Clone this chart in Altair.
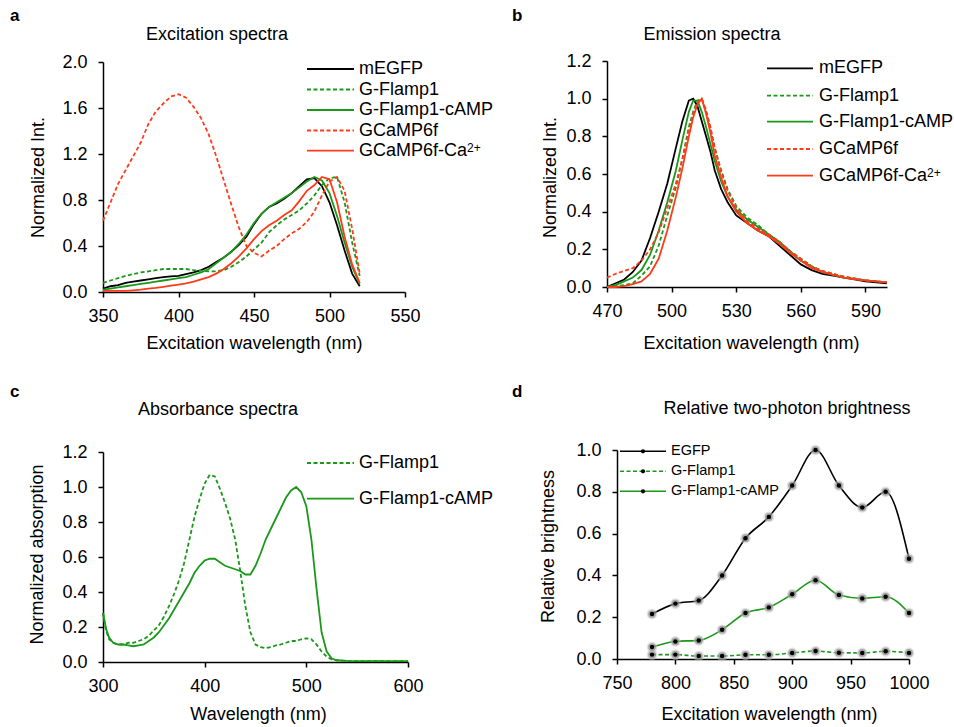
import altair as alt
import pandas as pd

FONT = "Liberation Sans"
W, H = 954, 727
BLACK, GREEN, RED = "#000000", "#1a981a", "#ff3b1a"
DASH = [4, 2.5]

# ---------------- a: excitation spectra ----------------
exc_wl = [350, 355, 360, 365, 370, 375, 380, 385, 390, 395, 400, 405, 410, 415, 420,
          425, 430, 435, 440, 445, 450, 455, 460, 465, 470, 475, 480, 485, 490, 495,
          500, 505, 510, 515, 520]
exc_megfp = [0.03, 0.05, 0.06, 0.08, 0.09, 0.10, 0.11, 0.12, 0.13, 0.135, 0.14, 0.155, 0.17, 0.19, 0.22,
             0.26, 0.30, 0.35, 0.41, 0.48, 0.59, 0.68, 0.74, 0.77, 0.81, 0.86, 0.92, 0.98, 0.99, 0.92,
             0.78, 0.58, 0.36, 0.16, 0.05]
exc_flamp = [0.08, 0.10, 0.12, 0.14, 0.155, 0.17, 0.18, 0.19, 0.20, 0.20, 0.20, 0.20, 0.19, 0.185, 0.18,
             0.18, 0.19, 0.22, 0.26, 0.31, 0.37, 0.43, 0.52, 0.58, 0.63, 0.67, 0.71, 0.77, 0.84, 0.93,
             0.99, 1.00, 0.78, 0.43, 0.14]
exc_flamp_camp = [0.02, 0.03, 0.04, 0.05, 0.06, 0.07, 0.08, 0.09, 0.10, 0.11, 0.12, 0.13, 0.15, 0.17, 0.20,
                  0.25, 0.30, 0.35, 0.42, 0.50, 0.60, 0.68, 0.74, 0.78, 0.82, 0.86, 0.91, 0.96, 1.00, 0.97,
                  0.86, 0.66, 0.43, 0.22, 0.07]
exc_gcamp = [0.62, 0.78, 0.94, 1.06, 1.18, 1.30, 1.46, 1.57, 1.64, 1.70, 1.72, 1.69, 1.61, 1.51, 1.37,
             1.18, 0.97, 0.76, 0.56, 0.40, 0.34, 0.31, 0.36, 0.40, 0.46, 0.51, 0.55, 0.61, 0.70, 0.84,
             0.96, 1.00, 0.88, 0.55, 0.16]
exc_gcamp_ca = [0.01, 0.01, 0.01, 0.01, 0.015, 0.02, 0.03, 0.035, 0.045, 0.055, 0.065, 0.075, 0.09, 0.11, 0.13,
                0.16, 0.20, 0.25, 0.31, 0.38, 0.46, 0.53, 0.58, 0.62, 0.67, 0.71, 0.79, 0.88, 0.93, 1.00,
                0.98, 0.78, 0.48, 0.24, 0.08]

# ---------------- b: emission spectra ----------------
em_wl = [470, 474, 478, 482, 486, 490, 494, 498, 502, 505, 508, 510, 512, 514, 516, 518, 520,
         523, 526, 530, 535, 540, 545, 550, 555, 560, 565, 570, 575, 580, 585, 590, 595, 600]
em_megfp = [0.0, 0.02, 0.04, 0.08, 0.14, 0.26, 0.40, 0.55, 0.74, 0.88, 0.99, 1.00, 0.96, 0.88, 0.80, 0.72, 0.62,
            0.52, 0.45, 0.38, 0.34, 0.30, 0.27, 0.22, 0.17, 0.12, 0.09, 0.07, 0.06, 0.05, 0.04, 0.03, 0.025, 0.02]
em_flamp = [0.0, 0.005, 0.01, 0.02, 0.06, 0.11, 0.22, 0.38, 0.53, 0.68, 0.85, 0.93, 0.99, 1.00, 0.93, 0.84, 0.74,
            0.62, 0.52, 0.43, 0.37, 0.33, 0.28, 0.24, 0.19, 0.15, 0.11, 0.085, 0.07, 0.055, 0.045, 0.035, 0.03, 0.025]
em_flamp_camp = [0.0, 0.01, 0.03, 0.05, 0.09, 0.17, 0.30, 0.45, 0.62, 0.78, 0.93, 0.99, 0.99, 0.93, 0.85, 0.76, 0.67,
                 0.56, 0.48, 0.41, 0.36, 0.32, 0.28, 0.24, 0.19, 0.14, 0.11, 0.08, 0.065, 0.05, 0.045, 0.035, 0.03, 0.025]
em_gcamp = [0.05, 0.07, 0.085, 0.10, 0.14, 0.20, 0.29, 0.42, 0.55, 0.68, 0.83, 0.92, 0.98, 1.00, 0.94, 0.85, 0.74,
            0.61, 0.51, 0.42, 0.35, 0.31, 0.28, 0.24, 0.19, 0.15, 0.11, 0.085, 0.07, 0.055, 0.045, 0.035, 0.03, 0.025]
em_gcamp_ca = [0.0, 0.0, 0.005, 0.015, 0.03, 0.07, 0.15, 0.30, 0.48, 0.63, 0.80, 0.90, 0.97, 1.00, 0.92, 0.82, 0.70,
               0.58, 0.48, 0.40, 0.34, 0.30, 0.27, 0.23, 0.18, 0.14, 0.10, 0.08, 0.065, 0.05, 0.04, 0.035, 0.03, 0.025]

# ---------------- c: absorbance spectra ----------------
abs_wl = [300, 303, 306, 310, 315, 320, 325, 330, 335, 340, 345, 350, 355, 360, 365, 370, 375, 380,
          385, 390, 395, 400, 405, 410, 415, 420, 425, 430, 435, 440, 445, 450, 455, 460, 465, 470,
          475, 480, 485, 490, 495, 500, 505, 510, 515, 520, 525, 530, 540, 550, 560, 570, 580, 590, 600]
abs_flamp = [0.28, 0.18, 0.13, 0.11, 0.10, 0.10, 0.11, 0.11, 0.12, 0.13, 0.15, 0.18, 0.21, 0.26, 0.32, 0.39, 0.47, 0.57,
             0.70, 0.83, 0.93, 1.02, 1.07, 1.06, 0.99, 0.91, 0.82, 0.70, 0.52, 0.32, 0.17, 0.10, 0.085, 0.08, 0.085, 0.095,
             0.10, 0.11, 0.12, 0.12, 0.13, 0.135, 0.13, 0.10, 0.06, 0.03, 0.015, 0.01, 0.005, 0.005, 0.005, 0.005, 0.005, 0.005, 0.005]
abs_flamp_camp = [0.28, 0.19, 0.14, 0.11, 0.10, 0.10, 0.095, 0.09, 0.095, 0.10, 0.12, 0.14, 0.17, 0.21, 0.25, 0.30, 0.35, 0.40,
                  0.45, 0.51, 0.55, 0.58, 0.59, 0.59, 0.57, 0.55, 0.54, 0.53, 0.52, 0.50, 0.50, 0.55, 0.62, 0.70, 0.76, 0.82,
                  0.88, 0.94, 0.98, 1.00, 0.97, 0.89, 0.70, 0.42, 0.17, 0.06, 0.02, 0.01, 0.006, 0.005, 0.005, 0.005, 0.005, 0.005, 0.005]

# ---------------- d: relative two-photon brightness ----------------
tp_wl = [780, 800, 820, 840, 860, 880, 900, 920, 940, 960, 980, 1000]
tp_egfp = [0.215, 0.265, 0.28, 0.40, 0.578, 0.68, 0.83, 1.00, 0.83, 0.725, 0.80, 0.48]
tp_flamp = [0.021, 0.021, 0.014, 0.014, 0.02, 0.02, 0.029, 0.038, 0.03, 0.029, 0.037, 0.029]
tp_flamp_camp = [0.057, 0.084, 0.089, 0.14, 0.22, 0.247, 0.31, 0.377, 0.306, 0.29, 0.298, 0.22]


def x_enc(dom, px, axis_y, vals, title, title_x, title_y):
    return alt.X("wl:Q",
                 scale=alt.Scale(domain=dom, range=px, nice=False, zero=False),
                 axis=alt.Axis(orient="bottom", offset=axis_y - H, values=vals, format="d",
                               title=title, titleX=title_x, titleY=title_y - axis_y,
                               titleBaseline="alphabetic", labelBaseline="alphabetic",
                               labelPadding=24.5))


def y_enc(dom, px, axis_x, vals, title, title_x, title_y):
    return alt.Y("val:Q",
                 scale=alt.Scale(domain=dom, range=px, nice=False, zero=False),
                 axis=alt.Axis(orient="left", offset=-axis_x, values=vals, format=".1f",
                               title=title, titleX=title_x - axis_x, titleY=title_y,
                               titleAngle=270, titleBaseline="alphabetic", labelPadding=11))


def curve(xs, ys, color, xe, ye, dashed=False, width=1.8, interp="linear"):
    kw = dict(color=color, strokeWidth=width, interpolate=interp)
    if dashed:
        kw["strokeDash"] = DASH
    df = pd.DataFrame({"wl": xs, "val": ys})
    return alt.Chart(df).mark_line(**kw).encode(x=xe, y=ye)


def text(t, x, y, size=18, weight="normal", align="left", baseline="alphabetic"):
    return alt.Chart(pd.DataFrame({"t": [t]})).mark_text(
        font=FONT, fontSize=size, fontWeight=weight, align=align, baseline=baseline, color="black"
    ).encode(x=alt.value(x), y=alt.value(y), text="t:N")


def key_line(x1, x2, y, color, dashed=False, width=1.8):
    kw = dict(color=color, strokeWidth=width)
    if dashed:
        kw["strokeDash"] = DASH
    return alt.Chart(pd.DataFrame({"k": [0]})).mark_rule(**kw).encode(
        x=alt.value(x1), x2=alt.value(x2), y=alt.value(y))


def dot(x, y, size=20):
    return alt.Chart(pd.DataFrame({"k": [0]})).mark_circle(size=size, color=BLACK, opacity=1).encode(
        x=alt.value(x), y=alt.value(y))


# panel a
xa = x_enc([350, 550], [103, 405], 292, [350, 400, 450, 500, 550],
           "Excitation wavelength (nm)", 254, 348.3)
ya = y_enc([0, 2.0], [292, 62], 103, [0, 0.4, 0.8, 1.2, 1.6, 2.0], "Normalized Int.", 43.3, 177)
panel_a = alt.layer(
    curve(exc_wl, exc_megfp, BLACK, xa, ya),
    curve(exc_wl, exc_flamp, GREEN, xa, ya, dashed=True),
    curve(exc_wl, exc_flamp_camp, GREEN, xa, ya),
    curve(exc_wl, exc_gcamp, RED, xa, ya, dashed=True),
    curve(exc_wl, exc_gcamp_ca, RED, xa, ya),
)

# panel b
xb = x_enc([470, 600], [607, 887], 287, [470, 500, 530, 560, 590],
           "Excitation wavelength (nm)", 751, 348.3)
yb = y_enc([0, 1.2], [287, 61], 607, [0, 0.2, 0.4, 0.6, 0.8, 1.0, 1.2], "Normalized Int.", 555.3, 177)
panel_b = alt.layer(
    curve(em_wl, em_megfp, BLACK, xb, yb),
    curve(em_wl, em_flamp, GREEN, xb, yb, dashed=True),
    curve(em_wl, em_flamp_camp, GREEN, xb, yb),
    curve(em_wl, em_gcamp, RED, xb, yb, dashed=True),
    curve(em_wl, em_gcamp_ca, RED, xb, yb),
)

# panel c
xc = x_enc([300, 600], [103, 408], 662, [300, 400, 500, 600], "Wavelength (nm)", 258, 719)
yc = y_enc([0, 1.2], [662, 452], 103, [0, 0.2, 0.4, 0.6, 0.8, 1.0, 1.2],
           "Normalized absorption", 42.7, 554)
panel_c = alt.layer(
    curve(abs_wl, abs_flamp, GREEN, xc, yc, dashed=True),
    curve(abs_wl, abs_flamp_camp, GREEN, xc, yc),
)

# panel d
xd = x_enc([750, 1000], [617, 909], 659, [750, 800, 850, 900, 950, 1000],
           "Excitation wavelength (nm)", 769, 719.7)
yd = y_enc([0, 1.0], [659, 450], 617, [0, 0.2, 0.4, 0.6, 0.8, 1.0], "Relative brightness", 553.5, 546)
d_layers = []
for ys, col, dashed in [(tp_egfp, BLACK, False), (tp_flamp, GREEN, True), (tp_flamp_camp, GREEN, False)]:
    d_layers.append(curve(tp_wl, ys, col, xd, yd, dashed=dashed, width=1.6, interp="monotone"))
for ys in [tp_egfp, tp_flamp, tp_flamp_camp]:
    pts = pd.DataFrame({"wl": tp_wl, "val": ys})
    base = alt.Chart(pts).encode(x=xd, y=yd)
    d_layers.append(base.mark_circle(size=115, color="#c4c4c4", opacity=0.5))
    d_layers.append(base.mark_circle(size=60, color="#7a7a7a", opacity=0.55))
    d_layers.append(base.mark_circle(size=20, color=BLACK, opacity=1))
panel_d = alt.layer(*d_layers)

# titles and panel letters
notes = [
    text("a", 10, 21, size=17, weight="bold"),
    text("b", 512, 21, size=17, weight="bold"),
    text("c", 10, 397, size=17, weight="bold"),
    text("d", 512, 397, size=17, weight="bold"),
    text("Excitation spectra", 217, 40, align="center"),
    text("Emission spectra", 712, 40, align="center"),
    text("Absorbance spectra", 218, 414.7, align="center"),
    text("Relative two-photon brightness", 787, 414, align="center"),
]

# keys
keys = []
five = [("mEGFP", BLACK, False), ("G-Flamp1", GREEN, True), ("G-Flamp1-cAMP", GREEN, False),
        ("GCaMP6f", RED, True), ("GCaMP6f-Ca", RED, False)]
for (x1, x2, tx, rows) in [(307, 354, 359, [69, 89.5, 110, 130.5, 150.7]),
                           (767, 813, 819, [68.3, 95.7, 121.7, 149, 175.7])]:
    for (name, col, dashed), ry in zip(five, rows):
        keys.append(key_line(x1, x2, ry, col, dashed))
        keys.append(text(name, tx, ry, baseline="middle"))
    keys.append(text("2+", tx + 108, rows[-1] + 1, size=12))

for (name, dashed), ry in zip([("G-Flamp1", True), ("G-Flamp1-cAMP", False)], [463, 498.7]):
    keys.append(key_line(307, 354, ry, GREEN, dashed))
    keys.append(text(name, 359, ry, baseline="middle"))

for (name, col, dashed), ry in zip([("EGFP", BLACK, False), ("G-Flamp1", GREEN, True),
                                    ("G-Flamp1-cAMP", GREEN, False)], [451.3, 471.3, 491.3]):
    keys.append(key_line(620, 666, ry, col, dashed, width=1.6))
    keys.append(dot(643, ry, size=18))
    keys.append(text(name, 671, ry, size=14.5, baseline="middle"))

chart = alt.layer(panel_a, panel_b, panel_c, panel_d, *notes, *keys).resolve_scale(
    x="independent", y="independent"
).properties(
    width=W, height=H, autosize=alt.AutoSizeParams(type="none"), padding=0
).configure_view(
    strokeWidth=0
).configure_axis(
    labelFont=FONT, titleFont=FONT, labelFontSize=18, titleFontSize=18,
    titleFontWeight="normal", labelColor="black", titleColor="black",
    domainColor="black", tickColor="black", domainWidth=1.5, tickWidth=1.5, tickSize=5,
    grid=False, labelFlush=False, labelOverlap=False
)

chart.save("out.html", embed_options={"renderer": "svg", "actions": False})
